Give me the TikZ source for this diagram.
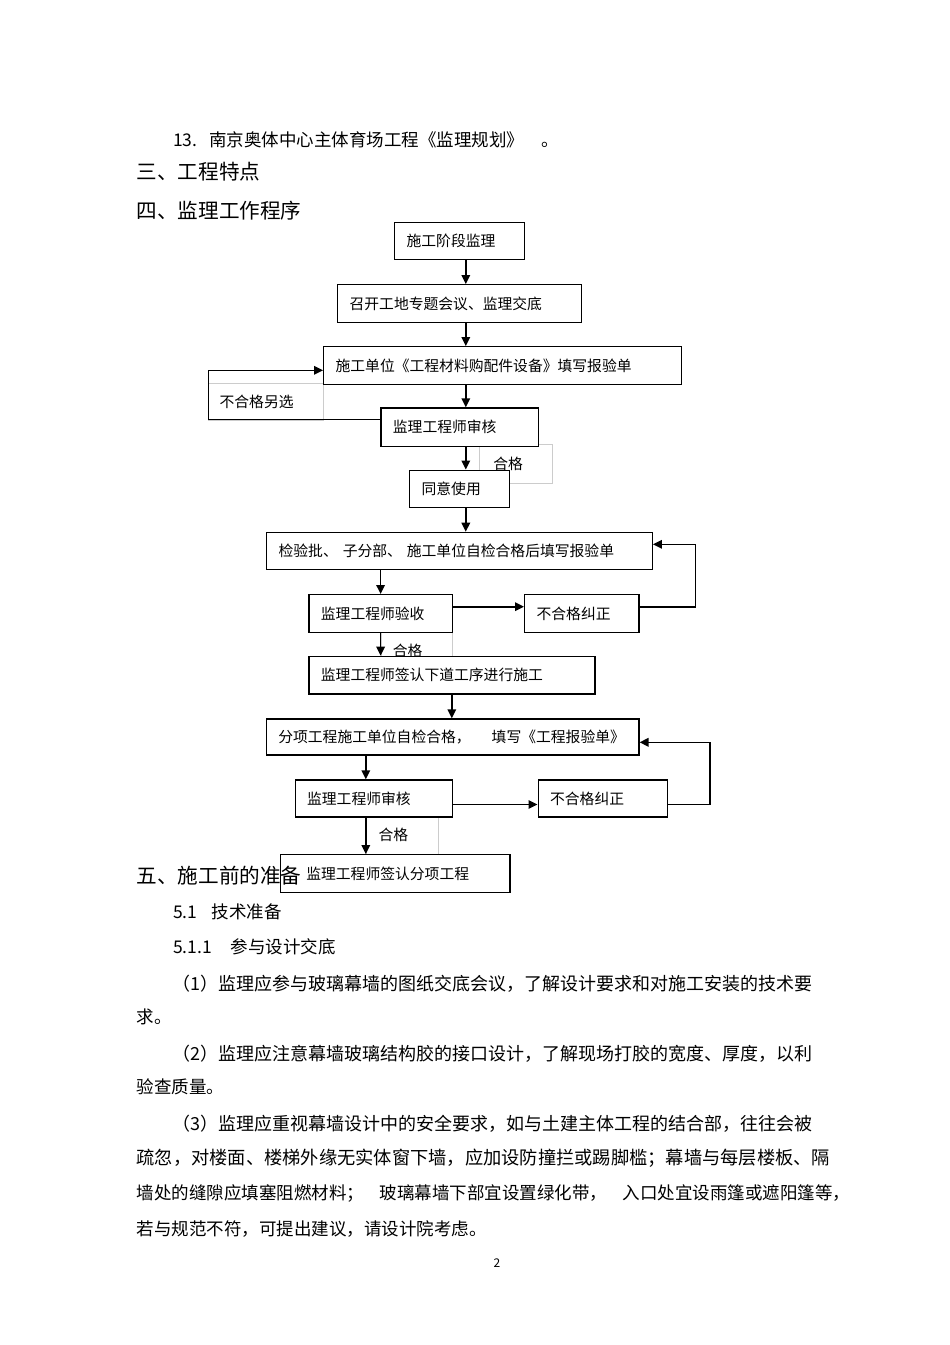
\documentclass[tikz,border=0pt]{standalone}
\usepackage{fontspec}
\setmainfont{Noto Sans CJK SC}
\usetikzlibrary{arrows.meta}

\newcommand{\flowfont}{\fontsize{14.8pt}{17pt}\selectfont}
\newcommand{\bodyfont}{\fontsize{17.5pt}{20pt}\selectfont}
\newcommand{\fullfont}{\fontsize{18pt}{20pt}\selectfont}
\newcommand{\headfont}{\fontsize{20.6pt}{23pt}\selectfont}

\tikzset{
  box/.style={draw, fill=white, line width=1.25pt, anchor=north west,
    inner xsep=12pt, inner ysep=0pt, align=left, font=\flowfont},
  lbl/.style={draw=black!20, line width=0.6pt, anchor=north west,
    inner xsep=12pt, inner ysep=0pt, align=left, font=\flowfont},
  flow/.style={-{Triangle[length=9pt,width=8.5pt]}, line width=1.6pt},
  para/.style={anchor=west, inner sep=0pt, font=\bodyfont},
}

\begin{document}
\begin{tikzpicture}[x=1pt, y=-1pt]
\useasboundingbox[fill=white] (0,0) rectangle (950,1345);

% label boxes behind the chart
\node[lbl, inner xsep=11pt, text width=92.7pt, minimum height=37.5pt] (rejlbl) at (208.3,382.5) {不合格另选};
\node[lbl, inner xsep=13.7pt, text width=45.6pt, minimum height=39.3pt] (ok1) at (479.3,443.7) {合格};
\node[lbl, text width=47.2pt, minimum height=37pt] (ok2) at (380.5,631.7) {合格};
\node[lbl, inner xsep=12.3pt, text width=47.7pt, minimum height=38pt] (ok3) at (366,816) {合格};

% chart boxes
\node[box, text width=106pt, minimum height=37pt] (stage) at (394,222) {施工阶段监理};
\node[box, text width=220pt, minimum height=38pt] (meeting) at (337,284) {召开工地专题会议、监理交底};
\node[box, text width=334pt, minimum height=37.5pt] (apply) at (323,346) {施工单位《工程材料购配件设备》填写报验单};
\node[box, text width=133.4pt, minimum height=38.4pt] (check1) at (380.3,407.3) {监理工程师审核};
\node[box, text width=76pt, minimum height=37.5pt] (agree) at (409,469.5) {同意使用};
\node[box, text width=361.7pt, minimum height=37.5pt] (batch) at (266,531.7) {检验批、 子分部、 施工单位自检合格后填写报验单};
\node[box, text width=119.4pt, minimum height=37.7pt] (accept) at (308.3,594) {监理工程师验收};
\node[box, text width=90.3pt, minimum height=37.7pt] (fix1) at (524,594) {不合格纠正};
\node[box, text width=262pt, minimum height=37.6pt] (next) at (308.3,655.7) {监理工程师签认下道工序进行施工};
\node[box, text width=348.6pt, minimum height=36pt] (item) at (265.7,718.3) {分项工程施工单位自检合格，\hspace{21pt}填写《工程报验单》};
\node[box, text width=133.2pt, minimum height=37pt] (check2) at (294.5,779.3) {监理工程师审核};
\node[box, text width=105.2pt, minimum height=37pt] (fix2) at (537.5,779.3) {不合格纠正};
\node[box, text width=205.3pt, minimum height=37.7pt] (sign) at (280,854) {\hspace*{13.7pt}监理工程师签认分项工程};

% arrow columns and rows
\coordinate (colA) at (465.8,0);
\coordinate (colB) at (380.6,0);
\coordinate (colC) at (451.8,0);
\coordinate (colD) at (365.8,0);
\coordinate (fixrow1) at (0,606.7);
\coordinate (fixrow2) at (0,804.5);
\coordinate (rejlow) at (208.3,419.5);
\coordinate (rejtop) at (208.3,370.3);
\coordinate (loop1) at (695.6,544.3);
\coordinate (loop2) at (709.8,742.3);

\draw[flow] (stage.south -| colA) -- (meeting.north -| colA);
\draw[flow] (meeting.south -| colA) -- (apply.north -| colA);
\draw[flow] (apply.south -| colA) -- (check1.north -| colA);
\draw[flow] (check1.south -| colA) -- (agree.north -| colA);
\draw[flow] (agree.south -| colA) -- (batch.north -| colA);
\draw[flow] (check1.west |- rejlow) -- (rejlow) -- (rejtop) -- (apply.west |- rejtop);

\draw[flow] (batch.south -| colB) -- (accept.north -| colB);
\draw[flow] (accept.south -| colB) -- (next.north -| colB);
\draw[flow] (accept.east |- fixrow1) -- (fix1.west |- fixrow1);
\draw[flow] (fix1.east |- fixrow1) -| (loop1) -- (batch.east |- loop1);

\draw[flow] (next.south -| colC) -- (item.north -| colC);
\draw[flow] (item.south -| colD) -- (check2.north -| colD);
\draw[flow] (check2.south -| colD) -- (sign.north -| colD);
\draw[flow] (check2.east |- fixrow2) -- (fix2.west |- fixrow2);
\draw[flow] (fix2.east |- fixrow2) -| (loop2) -- (item.east |- loop2);

% page text
\node[para] (ref13) at (173,140) {13.\hspace{12pt}南京奥体中心主体育场工程《监理规划》\hspace{17pt}。};
\node[para, font=\headfont] (sec3) at (136.5,172) {三、工程特点};
\node[para, font=\headfont] (sec4) at (136.5,210.5) {四、监理工作程序};
\node[para, font=\headfont] (sec5) at (136.5,875.5) {五、施工前的准备};
\node[para] (sub51) at (173,912) {5.1\hspace{14.5pt}技术准备};
\node[para] (sub511) at (173,947) {5.1.1\hspace{18.5pt}参与设计交底};
\node[para, font=\fullfont] (p1a) at (172,983.5) {（1）监理应参与玻璃幕墙的图纸交底会议，了解设计要求和对施工安装的技术要};
\node[para] (p1b) at (136.5,1017) {求。};
\node[para, font=\fullfont] (p2a) at (172,1053.5) {（2）监理应注意幕墙玻璃结构胶的接口设计，了解现场打胶的宽度、厚度，以利};
\node[para] (p2b) at (136.5,1087) {验查质量。};
\node[para, font=\fullfont] (p3a) at (172,1123.5) {（3）监理应重视幕墙设计中的安全要求，如与土建主体工程的结合部，往往会被};
\node[para, font=\fontsize{18.25pt}{20pt}\selectfont] (p3b) at (136.5,1158.5) {疏忽，对楼面、楼梯外缘无实体窗下墙，应加设防撞拦或踢脚槛；幕墙与每层楼板、隔};
\node[para] (p3c) at (136.5,1193.5) {墙处的缝隙应填塞阻燃材料；\hspace{15.5pt}玻璃幕墙下部宜设置绿化带，\hspace{15.5pt}入口处宜设雨篷或遮阳篷等，};
\node[para] (p3d) at (136.5,1228.5) {若与规范不符，可提出建议，请设计院考虑。};
\node[inner sep=0pt, font=\fontsize{12pt}{14pt}\selectfont] (pageno) at (497,1263) {2};
\end{tikzpicture}
\end{document}
